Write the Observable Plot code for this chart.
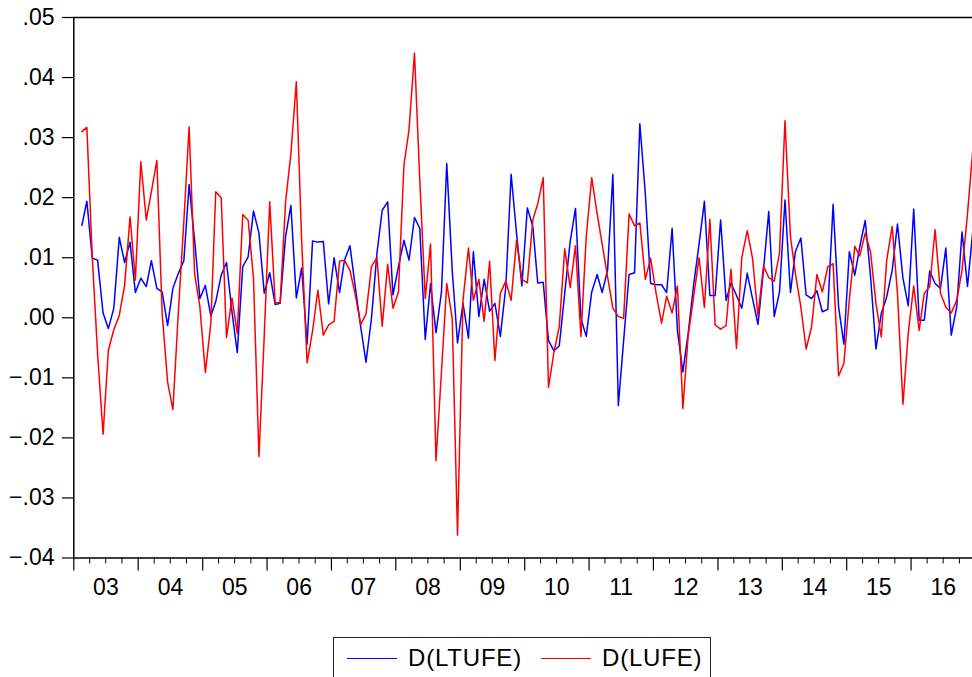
<!DOCTYPE html>
<html>
<head>
<meta charset="utf-8">
<script src="https://cdn.jsdelivr.net/npm/d3@7"></script>
<script src="https://cdn.jsdelivr.net/npm/@observablehq/plot@0.6"></script>
<style>
  html, body { margin: 0; padding: 0; background: #fff; }
  #wrap { position: relative; width: 972px; height: 677px; overflow: hidden; font-family: "Liberation Sans", Arial, sans-serif; }
  #legend { position: absolute; left: 333px; top: 637px; width: 378px; height: 44px; border: 1.5px solid #222; box-sizing: border-box; }
  .item { position: absolute; top: 0; height: 40px; display: flex; align-items: center; font-size: 24px; letter-spacing: 0.8px; color: #000; }
  .swatch { display: inline-block; width: 50px; height: 0; border-top: 1.5px solid; margin-right: 11px; }
</style>
</head>
<body>
<div id="wrap">
  <div id="chart"></div>
  <div id="legend">
    <div class="item" style="left:13px"><span class="swatch" style="border-color:#0000ff"></span><span>D(LTUFE)</span></div>
    <div class="item" style="left:207px"><span class="swatch" style="border-color:#ff0000"></span><span>D(LUFE)</span></div>
  </div>
</div>
<script>
// Monthly first differences, Feb 2003 .. Dec 2016
const startYear = 2003;
const startMonthIndex = 1; // February
const ltufe = [
.0154,.0194,.0099,.0096,.0008,-.0018,.0016,.0134,.0092,.0126,
.0042,.0066,.0052,.0095,.0049,.0043,-.0013,.0049,.0074,.0095,
.0222,.0129,.0032,.0054,.0003,.0027,.0071,.0092,.0010,-.0058,
.0085,.0102,.0178,.0141,.0041,.0075,.0022,.0024,.0135,.0187,
.0033,.0083,-.0044,.0128,.0126,.0127,.0023,.0100,.0042,.0096,
.0120,.0052,-.0015,-.0074,-.0001,.0107,.0179,.0193,.0038,.0085,
.0129,.0096,.0167,.0149,-.0036,.0057,-.0025,.0043,.0257,.0079,
-.0042,.0024,-.0034,.0110,.0002,.0064,.0011,.0024,-.0031,.0052,
.0239,.0140,.0053,.0183,.0152,.0058,.0059,-.0038,-.0055,-.0047,
.0041,.0127,.0182,-.0001,-.0031,.0043,.0072,.0042,.0079,.0239,
-.0146,-.0038,.0072,.0075,.0323,.0207,.0057,.0055,.0055,.0042,
.0149,-.0021,-.0090,-.0026,.0055,.0123,.0194,.0037,.0037,.0163,
.0029,.0058,.0037,.0016,.0074,.0032,-.0011,.0079,.0177,.0002,
.0043,.0196,.0042,.0110,.0133,.0038,.0032,.0045,.0010,.0014,
.0189,.0018,-.0044,.0110,.0071,.0118,.0162,.0070,-.0052,.0007,
.0035,.0079,.0156,.0066,.0020,.0181,-.0004,-.0004,.0078,.0057,
.0049,.0116,-.0029,.0018,.0143,.0052,.0144
];
const lufe = [
.0310,.0317,.0100,-.0060,-.0194,-.0054,-.0020,.0004,.0054,.0168,
.0063,.0260,.0163,.0210,.0262,.0007,-.0107,-.0153,.0010,.0160,
.0318,.0073,.0018,-.0091,-.0010,.0210,.0200,-.0033,.0033,-.0026,
.0172,.0162,.0066,-.0231,-.0030,.0193,.0025,.0025,.0193,.0273,
.0393,.0130,-.0075,-.0022,.0046,-.0029,-.0012,-.0006,.0094,.0096,
.0079,.0039,-.0011,.0006,.0085,.0100,-.0014,.0089,.0016,.0043,
.0254,.0313,.0441,.0230,.0032,.0123,-.0238,-.0090,.0057,-.0001,
-.0362,.0029,.0116,.0029,.0064,-.0006,.0094,-.0071,.0041,.0061,
.0029,.0129,.0064,.0058,.0163,.0190,.0233,-.0116,-.0057,-.0015,
.0115,.0050,.0120,-.0031,.0135,.0233,.0173,.0123,.0068,.0016,
.0002,-.0001,.0173,.0153,.0158,.0064,.0099,.0041,-.0009,.0036,
.0008,.0053,-.0151,-.0030,.0035,.0100,.0017,.0164,-.0012,-.0019,
-.0013,.0081,-.0051,.0100,.0145,.0099,.0003,.0086,.0067,.0061,
.0108,.0328,.0135,.0074,.0018,-.0052,-.0015,.0072,.0043,.0085,
.0090,-.0097,-.0076,.0030,.0119,.0103,.0141,.0110,.0024,-.0032,
.0096,.0152,.0040,-.0144,-.0026,.0053,-.0021,.0041,.0052,.0147,
.0041,.0018,.0008,.0029,.0079,.0173,.0279
];
const yearLabels = ["03","04","05","06","07","08","09","10","11","12","13","14","15","16"];
const yTicks = [-0.04,-0.03,-0.02,-0.01,0,0.01,0.02,0.03,0.04,0.05];

const dateOf = i => new Date(Date.UTC(startYear, startMonthIndex + i, 16));
const rowsA = ltufe.map((v, i) => ({date: dateOf(i), value: v}));
const rowsB = lufe.map((v, i) => ({date: dateOf(i), value: v}));

const xStart = new Date(Date.UTC(startYear, 0, 1));
const xEnd = new Date(Date.UTC(startYear + yearLabels.length, 0, 1));
const yearStarts = d3.range(yearLabels.length + 1).map(i => new Date(Date.UTC(startYear + i, 0, 1)));
const quarterTicks = d3.utcMonth.every(3).range(xStart, xEnd).filter(d => d.getUTCMonth() !== 0);
const midYears = yearLabels.map((_, i) => new Date(Date.UTC(startYear + i, 6, 2)));

const fmtY = d => d3.format(".2f")(d).replace("0.", ".");
const fontSize = 23;

const chart = Plot.plot({
  width: 972,
  height: 610,
  marginTop: 17,
  marginLeft: 73,
  marginRight: 0,
  marginBottom: 52.5,
  style: {fontFamily: "'Liberation Sans', Arial, sans-serif", background: "transparent", overflow: "visible"},
  x: {type: "utc", domain: [xStart, xEnd], range: [73.3, 975.1]},
  y: {domain: [-0.04, 0.05], nice: false},
  marks: [
    Plot.axisY({ticks: yTicks, tickSize: 11, tickPadding: 8, tickFormat: fmtY, fontSize, label: null, stroke: "#000", strokeWidth: 1.2, color: "#000"}),
    Plot.axisX({ticks: quarterTicks, tickSize: 6, tickFormat: () => "", label: null, stroke: "#000", strokeWidth: 1}),
    Plot.axisX({ticks: yearStarts, tickSize: 13, tickFormat: () => "", label: null, stroke: "#000", strokeWidth: 1.2}),
    Plot.axisX({ticks: midYears, tickSize: 0, tickPadding: 21, tickFormat: (d, i) => yearLabels[i], fontSize, label: null, color: "#000"}),
    Plot.ruleY([0.05], {stroke: "#000", strokeWidth: 1.3}),
    Plot.ruleY([-0.04], {stroke: "#000", strokeWidth: 1.5}),
    Plot.ruleX([xStart], {stroke: "#000", strokeWidth: 1.5}),
    Plot.line(rowsA, {x: "date", y: "value", stroke: "#0000ff", strokeWidth: 1.5}),
    Plot.line(rowsB, {x: "date", y: "value", stroke: "#ff0000", strokeWidth: 1.5})
  ]
});
document.getElementById("chart").appendChild(chart);
</script>
</body>
</html>
